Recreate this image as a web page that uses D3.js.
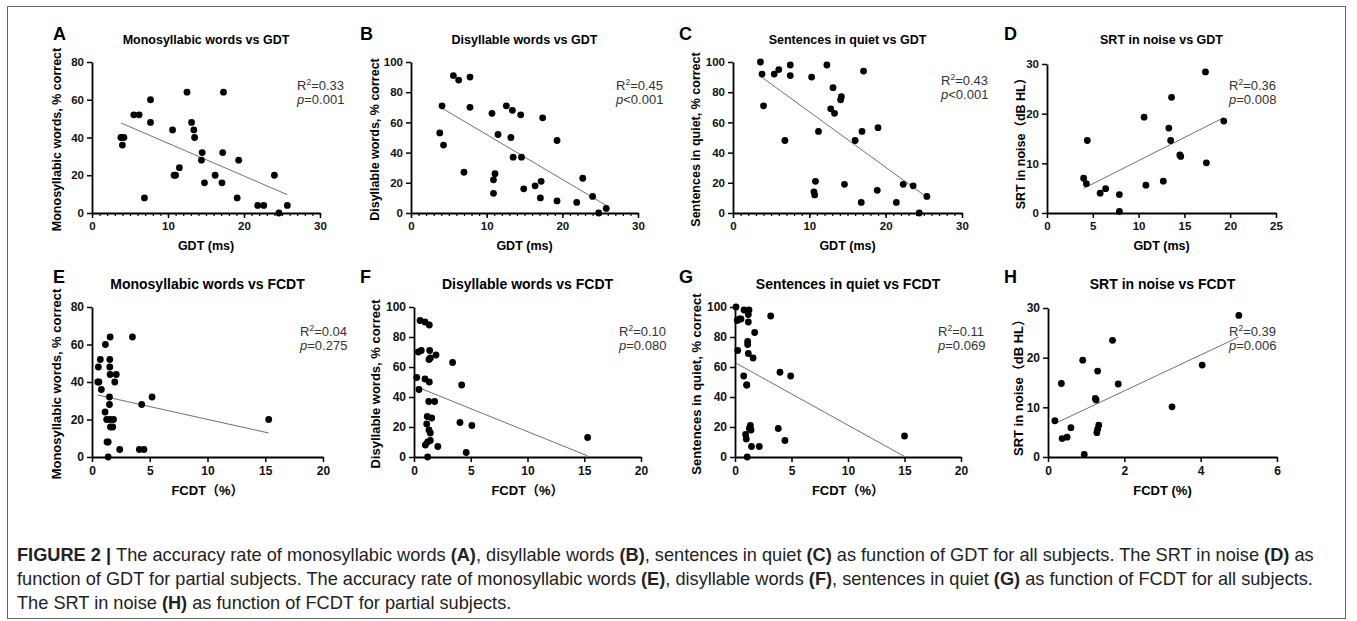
<!DOCTYPE html>
<html>
<head>
<meta charset="utf-8">
<script src="https://cdn.jsdelivr.net/npm/d3@7"></script>
<style>
  body { margin: 0; background: #fff; }
  svg { display: block; font-family: "Liberation Sans", Arial, "Noto Sans CJK SC", sans-serif; }
</style>
</head>
<body>
<svg id="fig" width="1357" height="621"></svg>
<script>
// values
const gdtA = [3.8, 4.2, 4.0, 5.5, 6.2, 6.9, 7.7, 7.7, 10.6, 10.8, 11.0, 11.5, 12.5, 13.1, 13.4, 13.5, 14.5, 14.4, 14.8, 16.2, 17.1, 17.3, 17.2, 19.3, 19.1, 21.8, 22.6, 24.0, 24.6, 25.7];
const monoA = [40, 40, 36, 52, 52, 8, 60, 48, 44, 20, 20, 24, 64, 48, 44, 40, 32, 28, 16, 20, 16, 64, 32, 28, 8, 4, 4, 20, 0, 4];

const gdtB = [3.8, 4.1, 4.3, 5.6, 6.3, 7.0, 7.8, 7.8, 10.7, 10.9, 11.1, 10.9, 11.5, 12.6, 13.2, 13.4, 13.5, 14.5, 14.6, 14.9, 16.4, 17.2, 17.4, 17.1, 19.3, 19.3, 21.9, 22.7, 24.0, 24.8, 25.8];
const diB = [53, 71, 45, 91, 88, 27, 90, 70, 66, 22, 26, 13, 52, 71, 50, 68, 37, 65, 37, 16, 18, 21, 63, 10, 48, 8, 7, 23, 11, 0, 3];

const gdtC = [3.6, 3.8, 4.0, 5.4, 6.0, 6.8, 7.5, 7.5, 10.3, 10.6, 10.7, 10.8, 11.2, 12.3, 12.8, 13.1, 13.3, 14.1, 14.2, 14.6, 16.0, 16.8, 16.9, 17.1, 18.9, 19.0, 21.4, 22.3, 23.6, 24.4, 25.4];
const sentC = [100, 92, 71, 92, 95, 48, 98, 91, 90, 14, 12, 21, 54, 98, 69, 83, 66, 75, 77, 19, 48, 7, 54, 94, 15, 56.5, 7, 19, 18, 0, 11];

const gdtD = [4.0, 4.3, 4.4, 5.8, 6.4, 7.9, 7.9, 10.8, 10.6, 12.7, 13.3, 13.5, 13.6, 14.5, 14.6, 17.3, 17.4, 19.3];
const srtD = [7.0, 5.9, 14.6, 4.0, 4.9, 3.7, 0.3, 5.6, 19.3, 6.4, 17.1, 14.6, 23.3, 11.7, 11.4, 28.4, 10.1, 18.5];

const fcdtE = [0.5, 0.6, 0.55, 0.72, 0.81, 1.16, 1.13, 1.27, 1.57, 1.54, 1.54, 1.57, 1.51, 1.51, 1.57, 1.86, 1.6, 1.8, 1.97, 2.1, 3.5, 4.3, 5.2, 15.3, 1.4, 1.3, 2.4, 4.1, 4.5, 1.4];
const monoE = [40, 40, 48, 52, 36, 60, 24, 20, 64, 52, 48, 44, 32, 28, 20, 20, 16, 16, 40, 44, 64, 28, 32, 20, 8, 8, 4, 4, 4, 0];

const fcdtF = [0.53, 0.97, 1.35, 0.38, 0.64, 1.38, 1.32, 1.44, 1.94, 3.4, 0.24, 0.97, 1.35, 4.2, 0.44, 1.3, 1.82, 1.17, 1.56, 1.12, 1.32, 1.44, 4.05, 5.1, 15.3, 1.44, 1.2, 1.0, 2.1, 4.6, 1.2];
const diF = [91, 90, 88, 70, 71, 71, 65, 66, 68, 63, 53, 52, 50, 48, 45, 37, 37, 27, 26, 22, 18, 16, 23, 21, 13, 11, 10, 8, 7, 3, 0];

const fcdtG = [0.09, 0.38, 0.24, 0.53, 1.18, 1.03, 0.8, 0.2, 1.18, 15.0, 1.0, 1.36, 0.77, 1.24, 1.18, 1.74, 1.6, 1.12, 1.12, 1.27, 1.05, 1.46, 4.93, 3.16, 0.94, 3.98, 2.15, 3.83, 1.42, 1.08, 4.42];
const sentG = [100, 92, 71, 92, 95, 48, 98, 91, 90, 14, 12, 21, 54, 98, 69, 83, 66, 75, 77, 19, 48, 7, 54, 94, 15, 56.5, 7, 19, 18, 0, 11];

const fcdtH = [0.18, 0.35, 0.91, 1.3, 1.24, 1.26, 1.69, 1.84, 3.25, 4.04, 5.0, 0.95, 0.37, 0.5, 0.6, 1.28, 1.3, 1.33];
const srtH = [7.3, 14.8, 19.5, 17.3, 11.8, 11.5, 23.5, 14.7, 10.1, 18.5, 28.5, 0.5, 3.7, 4.0, 5.9, 4.9, 5.6, 6.4];

const letters = ["A", "B", "C", "D", "E", "F", "G", "H"];
const titles = [
  "Monosyllabic words vs GDT", "Disyllable words vs GDT", "Sentences in quiet vs GDT", "SRT in noise vs GDT",
  "Monosyllabic words vs FCDT", "Disyllable words vs FCDT", "Sentences in quiet vs FCDT", "SRT in noise vs FCDT"
];
const yTitles = [
  "Monosyllabic words, % correct", "Disyllable words, % correct", "Sentences in quiet, % correct", "SRT in noise（dB HL）",
  "Monosyllabic words, % correct", "Disyllable words, % correct", "Sentences in quiet, % correct", "SRT in noise（dB HL）"
];
const xTitles = ["GDT (ms)", "GDT (ms)", "GDT (ms)", "GDT (ms)", "FCDT（%）", "FCDT（%）", "FCDT（%）", "FCDT (%)"];
const xMaxes = [30, 30, 30, 25, 20, 20, 20, 6];
const xSteps = [10, 10, 10, 5, 5, 5, 5, 2];
const yMaxes = [80, 100, 100, 30, 80, 100, 100, 30];
const ySteps = [20, 20, 20, 10, 20, 20, 20, 10];
const r2Values = ["0.33", "0.45", "0.43", "0.36", "0.04", "0.10", "0.11", "0.39"];
const pValues = ["=0.001", "<0.001", "<0.001", "=0.008", "=0.275", "=0.080", "=0.069", "=0.006"];

const captionLines = [
  [["FIGURE 2 | ", true], ["The accuracy rate of monosyllabic words ", false], ["(A)", true], [", disyllable words ", false], ["(B)", true],
   [", sentences in quiet ", false], ["(C)", true], [" as function of GDT for all subjects. The SRT in noise ", false], ["(D)", true], [" as", false]],
  [["function of GDT for partial subjects. The accuracy rate of monosyllabic words ", false], ["(E)", true], [", disyllable words ", false],
   ["(F)", true], [", sentences in quiet ", false], ["(G)", true], [" as function of FCDT for all subjects.", false]],
  [["The SRT in noise ", false], ["(H)", true], [" as function of FCDT for partial subjects.", false]]
];

// layout
const rows = [
  { top: 62, bottom: 213, letterY: 40, titleY: 44, titleSize: 12.5, tickSize: 11.5, labelSize: 12.5, statY: 90, xTitleY: 250 },
  { top: 307, bottom: 457, letterY: 283, titleY: 289, titleSize: 14, tickSize: 12, labelSize: 13, statY: 336, xTitleY: 495 }
];
const layout = [
  { row: 0, left: 92, right: 320, minor: 1, letterX: 53, yTitleX: 57, statX: 297, xs: gdtA, ys: monoA },
  { row: 0, left: 411, right: 638, minor: 1, letterX: 360, yTitleX: 375, statX: 616, xs: gdtB, ys: diB },
  { row: 0, left: 733, right: 962, minor: 1, letterX: 679, yTitleX: 696, statX: 941, statDy: -5, xs: gdtC, ys: sentC },
  { row: 0, left: 1047, right: 1276, top: 64, minor: 0, letterX: 1004, yTitleX: 1021, statX: 1229, xs: gdtD, ys: srtD },
  { row: 1, left: 92, right: 323, minor: 0, letterX: 53, yTitleX: 56, statX: 300, xs: fcdtE, ys: monoE },
  { row: 1, left: 414, right: 641, minor: 0, letterX: 360, yTitleX: 375, statX: 619, xs: fcdtF, ys: diF },
  { row: 1, left: 735, right: 961, minor: 0, letterX: 679, yTitleX: 696, statX: 938, xs: fcdtG, ys: sentG },
  { row: 1, left: 1048, right: 1277, top: 308, minor: 0, letterX: 1004, yTitleX: 1018, statX: 1229, xs: fcdtH, ys: srtH }
];

const svg = d3.select("#fig");

svg.append("rect")
  .attr("x", 7.5).attr("y", 6.5).attr("width", 1338).attr("height", 612)
  .attr("fill", "none").attr("stroke", "#666").attr("stroke-width", 1);

function fit(xs, ys) {
  const mx = d3.mean(xs);
  const my = d3.mean(ys);
  let sxy = 0;
  let sxx = 0;
  xs.forEach((v, i) => {
    sxy += (v - mx) * (ys[i] - my);
    sxx += (v - mx) * (v - mx);
  });
  const m = sxy / sxx;
  return { m, b: my - m * mx };
}

function styleAxis(a, size) {
  a.select(".domain").attr("stroke", "#000").attr("stroke-width", 1.8);
  a.selectAll(".tick line").attr("stroke", "#000").attr("stroke-width", 1.5);
  a.selectAll(".tick text")
    .attr("font-family", null).attr("font-size", size)
    .attr("font-weight", "bold").attr("fill", "#111");
}

layout.forEach((p, i) => {
  const row = rows[p.row];
  const top = p.top || row.top;
  const x = d3.scaleLinear().domain([0, xMaxes[i]]).range([p.left, p.right]);
  const y = d3.scaleLinear().domain([0, yMaxes[i]]).range([row.bottom, top]);
  const g = svg.append("g");

  if (p.minor) {
    g.append("g")
      .attr("transform", `translate(0,${row.bottom})`)
      .call(d3.axisBottom(x).tickValues(d3.range(0, xMaxes[i] + 0.001, p.minor)).tickSize(3).tickFormat(""))
      .call(a => {
        a.select(".domain").remove();
        a.selectAll(".tick line").attr("stroke", "#000").attr("stroke-width", 1.2);
      });
  }

  g.append("g")
    .attr("transform", `translate(0,${row.bottom})`)
    .call(d3.axisBottom(x)
      .tickValues(d3.range(0, xMaxes[i] + 0.001, xSteps[i]))
      .tickFormat(d3.format("d"))
      .tickSize(5).tickSizeOuter(0).tickPadding(4))
    .call(a => styleAxis(a, row.tickSize));

  g.append("g")
    .attr("transform", `translate(${p.left},0)`)
    .call(d3.axisLeft(y)
      .tickValues(d3.range(0, yMaxes[i] + 0.001, ySteps[i]))
      .tickFormat(d3.format("d"))
      .tickSize(5).tickSizeOuter(0).tickPadding(3))
    .call(a => styleAxis(a, row.tickSize));

  // regression line, stopped where it meets the x axis
  const f = fit(p.xs, p.ys);
  const x0 = d3.min(p.xs);
  let x1 = d3.max(p.xs);
  if (f.m * x1 + f.b < 0) x1 = -f.b / f.m;
  g.append("line")
    .attr("x1", x(x0)).attr("y1", y(f.m * x0 + f.b))
    .attr("x2", x(x1)).attr("y2", y(f.m * x1 + f.b))
    .attr("stroke", "#707070").attr("stroke-width", 1);

  g.selectAll("circle")
    .data(p.xs.map((v, k) => [v, p.ys[k]]))
    .join("circle")
    .attr("cx", d => x(d[0]))
    .attr("cy", d => y(d[1]))
    .attr("r", 3.4)
    .attr("fill", "#000");

  g.append("text")
    .attr("x", p.letterX).attr("y", row.letterY)
    .attr("font-size", 18).attr("font-weight", "bold")
    .text(letters[i]);

  g.append("text")
    .attr("x", (p.left + p.right) / 2).attr("y", row.titleY)
    .attr("text-anchor", "middle")
    .attr("font-size", row.titleSize).attr("font-weight", "bold")
    .text(titles[i]);

  g.append("text")
    .attr("transform", `translate(${p.yTitleX},${(top + row.bottom) / 2 + 2}) rotate(-90)`)
    .attr("text-anchor", "middle").attr("dy", "0.35em")
    .attr("font-size", row.labelSize).attr("font-weight", "bold")
    .text(yTitles[i]);

  g.append("text")
    .attr("x", (p.left + p.right) / 2).attr("y", row.xTitleY)
    .attr("text-anchor", "middle")
    .attr("font-size", row.labelSize).attr("font-weight", "bold")
    .text(xTitles[i]);

  const sy = row.statY + (p.statDy || 0);
  const r2 = g.append("text").attr("x", p.statX).attr("y", sy).attr("font-size", 13).attr("fill", "#333");
  r2.append("tspan").text("R");
  r2.append("tspan").attr("font-size", 8.5).attr("dy", -5).text("2");
  r2.append("tspan").attr("dy", 5).text("=" + r2Values[i]);

  const pv = g.append("text").attr("x", p.statX).attr("y", sy + 14).attr("font-size", 13).attr("fill", "#333");
  pv.append("tspan").attr("font-style", "italic").text("p");
  pv.append("tspan").text(pValues[i]);
});

// caption
const capWidth = 1298;
const capLines = captionLines.map((parts, k) => {
  const t = svg.append("text")
    .attr("x", 17).attr("y", 561 + k * 24)
    .attr("font-size", 14).attr("fill", "#222");
  parts.forEach(([s, bold]) => {
    t.append("tspan").attr("font-weight", bold ? "bold" : null).text(s);
  });
  return t;
});
const capSize = 14 * capWidth / capLines[0].node().getComputedTextLength();
capLines.forEach(t => t.attr("font-size", capSize));
</script>
</body>
</html>
